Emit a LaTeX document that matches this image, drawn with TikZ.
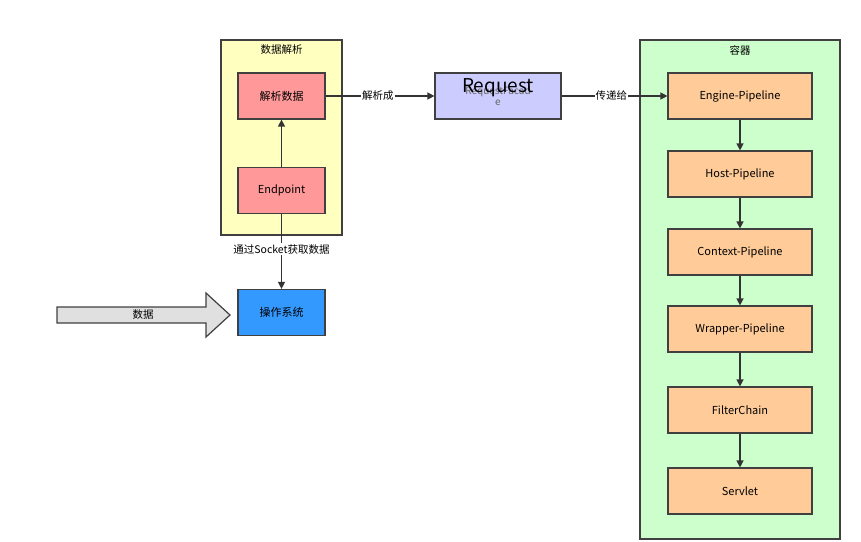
\documentclass[tikz,border=0pt]{standalone}
\usepackage{fontspec}
\setmainfont{Noto Sans CJK SC}
\usetikzlibrary{arrows.meta}
\definecolor{ybg}{HTML}{FFFFC0}
\definecolor{gbg}{HTML}{CCFFCC}
\definecolor{red1}{HTML}{FF9999}
\definecolor{blue1}{HTML}{3399FF}
\definecolor{lav}{HTML}{CCCCFF}
\definecolor{ora}{HTML}{FFCC99}
\begin{document}
\begin{tikzpicture}[x=1pt,y=-1pt,
 box/.style={draw=black!75,line width=1.2pt,minimum width=87pt,minimum height=46pt,font=\fontsize{11}{13}\selectfont},
 pbox/.style={box,fill=ora,minimum width=144pt},
 cont/.style={draw=black!75,line width=1.2pt},
 arr/.style={-{Triangle[length=7pt,width=7pt]},line width=1.3pt,draw=black!80},
 lab/.style={fill=white,inner sep=1pt,font=\fontsize{10.5}{12}\selectfont}]
\useasboundingbox (0,0) rectangle (861,541);
\draw[cont,fill=ybg] (221,40) rectangle (342,235);
\node[font=\fontsize{10.5}{12}\selectfont] (t1) at (281.5,50) {数据解析};
\draw[cont,fill=gbg] (640,40) rectangle (840,539);
\node[font=\fontsize{10.5}{12}\selectfont] (t2) at (740,50) {容器};
\node[box,fill=red1] (jx) at (281.5,96) {解析数据};
\node[box,fill=red1] (ep) at (281.5,190.5) {Endpoint};
\node[box,fill=blue1] (os) at (281.5,312.5) {操作系统};
\node[box,fill=lav,minimum width=126pt] (rq) at (498,96) {};
\node[text=black!60,font=\fontsize{10}{11}\selectfont,align=center] (rqs) at (498,96) {RequestFacad\\e};
\node[font=\fontsize{19}{20}\selectfont] (rqb) at (498,88) {Request};
\node[pbox] (p1) at (740,96) {Engine-Pipeline};
\node[pbox] (p2) at (740,174) {Host-Pipeline};
\node[pbox] (p3) at (740,252) {Context-Pipeline};
\node[pbox] (p4) at (740,329) {Wrapper-Pipeline};
\node[pbox] (p5) at (740,410) {FilterChain};
\node[pbox] (p6) at (740,491) {Servlet};
\draw[arr] (ep) -- (jx);
\draw[arr] (ep) -- node[lab,pos=0.47]{通过Socket获取数据} (os);
\draw[arr] (jx) -- node[lab,pos=0.48]{解析成} (rq);
\draw[arr] (rq) -- node[lab,pos=0.47]{传递给} (p1);
\draw[arr] (p1) -- (p2);
\draw[arr] (p2) -- (p3);
\draw[arr] (p3) -- (p4);
\draw[arr] (p4) -- (p5);
\draw[arr] (p5) -- (p6);
\draw[draw=black!75,line width=1.2pt,fill=black!12] (57,307) -- (206,307) -- (206,293) -- (230,315) -- (206,337) -- (206,323) -- (57,323) -- cycle;
\node[font=\fontsize{10.5}{12}\selectfont] (sj) at (143,315) {数据};
\end{tikzpicture}
\end{document}
